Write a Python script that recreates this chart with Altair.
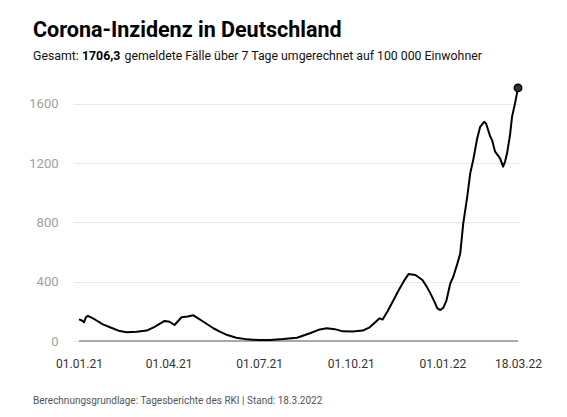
import altair as alt
import pandas as pd

dates = ["2021-01-01","2021-01-04","2021-01-06","2021-01-08","2021-01-10","2021-01-17","2021-01-25",
         "2021-02-03","2021-02-11","2021-02-18","2021-02-28","2021-03-10","2021-03-18","2021-03-28",
         "2021-04-02","2021-04-07","2021-04-14","2021-04-20","2021-04-26","2021-05-06","2021-05-16",
         "2021-05-23","2021-05-30","2021-06-08","2021-06-19","2021-07-01","2021-07-12","2021-07-25",
         "2021-08-08","2021-08-21","2021-08-31","2021-09-07","2021-09-15","2021-09-23","2021-10-03",
         "2021-10-13","2021-10-20","2021-10-27","2021-10-30","2021-11-02","2021-11-07","2021-11-13",
         "2021-11-18","2021-11-23","2021-11-28","2021-12-05","2021-12-12","2021-12-16","2021-12-20",
         "2021-12-24","2021-12-27","2021-12-30","2022-01-02","2022-01-05","2022-01-09","2022-01-12",
         "2022-01-16","2022-01-19","2022-01-22","2022-01-26","2022-01-29","2022-02-01","2022-02-05",
         "2022-02-08","2022-02-12","2022-02-14","2022-02-16","2022-02-18","2022-02-20","2022-02-23",
         "2022-02-26","2022-02-28","2022-03-03","2022-03-05","2022-03-07","2022-03-10","2022-03-12",
         "2022-03-15","2022-03-18"]
values = [146,138,126,160,170,145,112,
          88,67,59,63,70,95,135,
          130,108,160,165,173,130,86,
          62,40,22,11,6,7,13,
          22,52,78,86,80,65,64,
          70,92,135,153,145,200,276,
          340,400,451,445,411,370,321,
          265,220,209,225,270,389,433,
          520,591,793,972,1130,1220,1366,
          1444,1478,1465,1422,1380,1354,1276,
          1250,1231,1175,1210,1265,1390,1511,
          1602,1706.3]

y_ticks = [0, 400, 800, 1200, 1600]
x_ticks = ["2021-01-01", "2021-04-01", "2021-07-01", "2021-10-01", "2022-01-01", "2022-03-18"]

title = "Corona-Inzidenz in Deutschland"
sub_a = "Gesamt:"
sub_b = "1706,3"
sub_c = "gemeldete Fälle über 7 Tage umgerechnet auf 100 000 Einwohner"
footer = "Berechnungsgrundlage: Tagesberichte des RKI | Stand: 18.3.2022"

FONT = "Roboto"

df = pd.DataFrame({"date": dates, "value": values})
last = df.tail(1)
base = pd.DataFrame({"date": [dates[0], dates[-1]], "value": [0, 0]})


def dt(s):
    y, m, d = (int(p) for p in s.split("-"))
    return alt.DateTime(year=y, month=m, date=d, utc=True)


xscale = alt.Scale(type="utc", domain=[dt("2020-12-26"), dt("2022-03-19")])
yscale = alt.Scale(domain=[0, 1800], nice=False)

xaxis = alt.Axis(values=[dt(s) for s in x_ticks],
                 labelExpr="utcFormat(datum.value, '%d.%m.%y')",
                 title=None, domain=False, ticks=False, grid=False,
                 labelColor="#333333", labelFontSize=12, labelFont=FONT,
                 labelPadding=26, labelAlign="center", labelOverlap=False,
                 labelBaseline="alphabetic")
yaxis = alt.Axis(values=y_ticks, format="d", title=None, domain=False,
                 ticks=False, grid=True, gridColor="#e8e8e8", gridWidth=1,
                 labelColor="#a0a0a0", labelFontSize=13, labelFont=FONT,
                 labelPadding=15)

xenc = alt.X("date:T", scale=xscale, axis=xaxis)
yenc = alt.Y("value:Q", scale=yscale, axis=yaxis)

baseline = alt.Chart(base).mark_line(color="#a8a8a8", strokeWidth=2).encode(x=xenc, y=yenc)

line = alt.Chart(df).mark_line(color="black", strokeWidth=2, strokeJoin="round").encode(x=xenc, y=yenc)

dot = alt.Chart(last).mark_point(filled=True, fill="#333333", stroke="black", strokeWidth=1.5,
                                 size=55, opacity=1).encode(x=xenc, y=yenc)


def txt(text, x, y, size, weight="normal", color="black"):
    return alt.Chart(pd.DataFrame({"t": [text]})).mark_text(
        align="left", baseline="alphabetic", fontSize=size, fontWeight=weight,
        color=color, font=FONT).encode(text="t:N", x=alt.value(x), y=alt.value(y))


texts = [
    txt(title, -40, -37, 21.5, "bold"),
    txt(sub_a, -40, -14, 12.3, color="#111111"),
    txt(sub_b, 9.0, -14, 12.3, "bold"),
    txt(sub_c, 51.5, -14, 12.3, color="#111111"),
    txt(footer, -40, 329.5, 10, color="#555555"),
]

chart = alt.layer(baseline, line, dot, *texts).properties(
    width=446, height=267, autosize="none", background="white",
    padding={"left": 65, "top": 66, "right": 30, "bottom": 66}
).configure_axis(
    domain=False, ticks=False
).configure_view(strokeWidth=0, stroke="transparent")

chart.save("out.html", embed_options={"renderer": "svg", "actions": False})
